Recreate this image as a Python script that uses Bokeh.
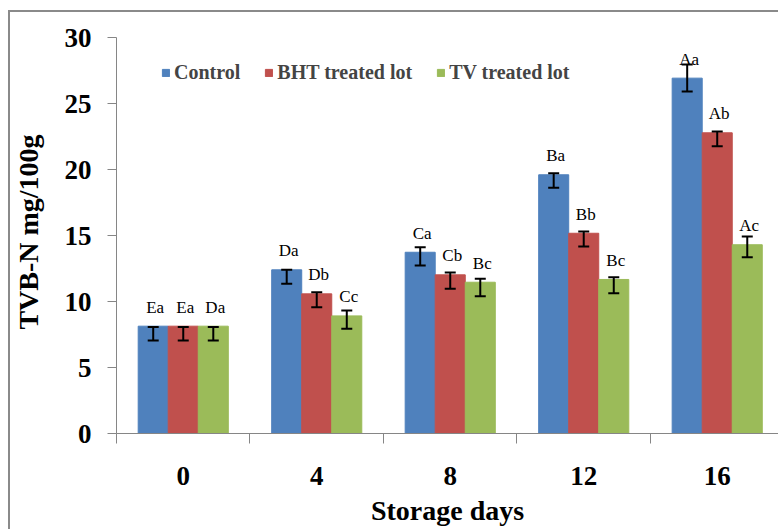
import numpy as np
from bokeh.plotting import figure
from bokeh.models import (ColumnDataSource, Whisker, TeeHead, LabelSet,
                          Legend, LegendItem, FixedTicker)
from bokeh.core.properties import value
from bokeh.embed import file_html
from bokeh.resources import INLINE

# ---------------- data ----------------
days = ["0", "4", "8", "12", "16"]
series = ["Control", "BHT treated lot", "TV treated lot"]

control = [8.13, 12.40, 13.73, 19.60, 26.92]
bht = [8.13, 10.58, 12.02, 15.17, 22.78]
tv = [8.13, 8.91, 11.46, 11.67, 14.30]

control_hi = [8.06, 12.40, 14.11, 19.72, 27.95]
control_lo = [7.05, 11.34, 12.73, 18.61, 25.90]
bht_hi = [8.06, 10.70, 12.20, 15.30, 22.88]
bht_lo = [7.05, 9.57, 10.96, 14.17, 21.77]
tv_hi = [8.06, 9.32, 11.72, 11.84, 14.92]
tv_lo = [7.05, 7.93, 10.40, 10.63, 13.36]

control_sig = ["Ea", "Da", "Ca", "Ba", "Aa"]
bht_sig = ["Ea", "Db", "Cb", "Bb", "Ab"]
tv_sig = ["Da", "Cc", "Bc", "Bc", "Ac"]

y_ticks = [0, 5, 10, 15, 20, 25, 30]
colors = ["#4F81BD", "#C0504D", "#9BBB59"]

# ---------------- figure ----------------
AXIS_COL = "#868686"
FONT = "Liberation Serif"

p = figure(width=778, height=529, x_range=(0, 4.959), y_range=(0, 30),
           output_backend="svg", toolbar_location=None,
           min_border_left=116, min_border_right=0,
           min_border_top=37, min_border_bottom=96)
p.border_fill_color = None
p.background_fill_color = None
p.outline_line_color = None
p.grid.visible = False
p.styles = {
    "background": ("linear-gradient(#8a8a8a,#8a8a8a) 8px 10px / 100% 2px no-repeat, "
                   "linear-gradient(#8a8a8a,#8a8a8a) 8px 10px / 2px 100% no-repeat")
}

n = len(days)
centers = np.arange(n) + 0.5
bw = 0.225
offsets = [-bw, 0.0, bw]

vals = [control, bht, tv]
his = [control_hi, bht_hi, tv_hi]
los = [control_lo, bht_lo, tv_lo]
sigs = [control_sig, bht_sig, tv_sig]

items = []
for j in range(3):
    src = ColumnDataSource(dict(x=centers + offsets[j], top=vals[j],
                                hi=his[j], lo=los[j], sig=sigs[j]))
    r = p.vbar(x="x", top="top", width=bw, source=src,
               fill_color=colors[j], line_color=colors[j], line_width=1)
    items.append(LegendItem(label=series[j], renderers=[r]))
    w = Whisker(source=src, base="x", upper="hi", lower="lo", level="overlay",
                line_color="black", line_width=2,
                upper_head=TeeHead(size=11, line_color="black", line_width=2),
                lower_head=TeeHead(size=11, line_color="black", line_width=2))
    p.add_layout(w)
    ls = LabelSet(source=src, x="x", y="top", text="sig", y_offset=19, x_offset=2,
                  text_align="center", text_baseline="middle",
                  text_font=value(FONT), text_font_size=value("17px"),
                  text_color="black")
    p.add_layout(ls)

legend = Legend(items=items, orientation="horizontal", location=(45, 349),
                glyph_width=9, glyph_height=9, label_standoff=4, spacing=24,
                padding=0, margin=0, border_line_color=None,
                background_fill_alpha=0, label_text_font=FONT,
                label_text_font_style="bold", label_text_font_size="20px",
                label_height=9)
p.add_layout(legend)

# x axis
xa = p.xaxis[0]
xa.ticker = FixedTicker(ticks=list(centers), minor_ticks=list(range(n + 1)))
xa.major_label_overrides = {float(c): d for c, d in zip(centers, days)}
xa.major_tick_out = 0
xa.major_tick_in = 0
xa.minor_tick_out = 10
xa.minor_tick_in = 0
xa.minor_tick_line_color = AXIS_COL
xa.axis_line_color = AXIS_COL
xa.major_label_standoff = 23
xa.major_label_text_font = FONT
xa.major_label_text_font_style = "bold"
xa.major_label_text_font_size = "27px"
xa.major_label_text_color = "black"
xa.axis_label = "Storage days"
xa.axis_label_standoff = 7
xa.axis_label_text_font = FONT
xa.axis_label_text_font_style = "bold"
xa.axis_label_text_font_size = "28px"
xa.axis_label_text_color = "black"

# y axis
ya = p.yaxis[0]
ya.ticker = FixedTicker(ticks=y_ticks, minor_ticks=[])
ya.major_tick_out = 9
ya.major_tick_in = 0
ya.minor_tick_out = 0
ya.minor_tick_in = 0
ya.major_tick_line_color = AXIS_COL
ya.axis_line_color = AXIS_COL
ya.major_label_standoff = 16
ya.major_label_text_font = FONT
ya.major_label_text_font_style = "bold"
ya.major_label_text_font_size = "27px"
ya.major_label_text_color = "black"
ya.axis_label = "\u00a0TVB-N mg/100g"
ya.axis_label_standoff = 18
ya.axis_label_text_font = FONT
ya.axis_label_text_font_style = "bold"
ya.axis_label_text_font_size = "28px"
ya.axis_label_text_color = "black"

open("out.html", "w").write(file_html(p, INLINE))
